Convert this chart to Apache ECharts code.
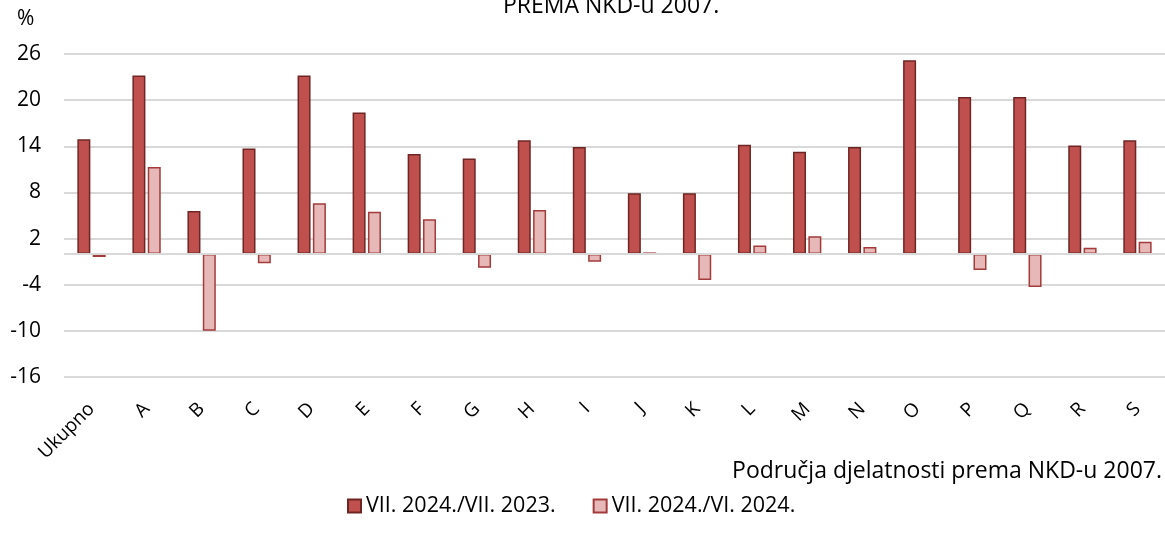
<!DOCTYPE html>
<html>
<head>
<meta charset="utf-8">
<script src="https://cdn.jsdelivr.net/npm/echarts@6/dist/echarts.min.js"></script>
<style>
html,body{margin:0;padding:0;background:#fff;}
#c{width:1165px;height:545px;}
</style>
</head>
<body>
<div id="c"></div>
<script>
const categories = ['Ukupno','A','B','C','D','E','F','G','H','I','J','K','L','M','N','O','P','Q','R','S'];
const seriesNames = ['VII. 2024./VII. 2023.', 'VII. 2024./VI. 2024.'];
const yearOnYear = [14.9, 23.2, 5.6, 13.7, 23.2, 18.4, 13.0, 12.4, 14.8, 13.9, 7.9, 7.9, 14.2, 13.3, 13.9, 25.2, 20.4, 20.4, 14.1, 14.8];
const monthOnMonth = [-0.4, 11.3, -10.0, -1.2, 6.6, 5.5, 4.5, -1.8, 5.7, -1.0, 0.2, -3.4, 1.1, 2.3, 0.9, -0.1, -2.1, -4.3, 0.8, 1.6];
const yTicks = { min: -16, max: 26, interval: 6 };
const titleText = 'PREMA NKD-u 2007.';
const unitText = '%';
const xAxisTitle = 'Područja djelatnosti prema NKD-u 2007.';

const FONT = 'Open Sans';
const chart = echarts.init(document.getElementById('c'), null, {renderer: 'canvas'});
chart.setOption({
  animation: false,
  backgroundColor: '#ffffff',
  textStyle: { fontFamily: FONT, color: '#000' },
  grid: { left: 64, top: 54, width: 1104, height: 323, containLabel: false },
  graphic: [
    { type: 'text', left: 503, top: -5, style: { text: titleText, font: '23px "Open Sans"', fill: '#000' } },
    { type: 'text', left: 17, top: 9, style: { text: unitText, font: '21px "Open Sans"', fill: '#000' } },
    { type: 'text', right: 3, top: 460, style: { text: xAxisTitle, font: '23px "Open Sans"', fill: '#000' } }
  ],
  legend: {
    bottom: 23,
    left: 342,
    itemWidth: 13,
    itemHeight: 13,
    itemGap: 37,
    icon: 'rect',
    textStyle: { fontFamily: FONT, fontSize: 21.5, color: '#000' },
    data: seriesNames
  },
  xAxis: {
    type: 'category',
    data: categories,
    axisLine: { show: false, onZero: false },
    axisTick: { show: false },
    axisLabel: { rotate: 45, margin: 29, fontSize: 19, fontFamily: FONT, color: '#000', interval: 0 }
  },
  yAxis: {
    type: 'value',
    min: yTicks.min, max: yTicks.max, interval: yTicks.interval,
    axisLine: { show: false },
    axisTick: { show: false },
    splitLine: { lineStyle: { color: '#d9d9d9', width: 2 } },
    axisLabel: { margin: 23, fontSize: 21, fontFamily: FONT, color: '#000' }
  },
  series: [
    {
      name: seriesNames[0], type: 'bar', data: yearOnYear,
      barWidth: 13, barGap: '18%',
      itemStyle: { color: '#C0504D', borderColor: '#6E2624', borderWidth: 1.5 },
      markLine: {
        silent: true, symbol: 'none', label: { show: false },
        lineStyle: { color: '#d9d9d9', width: 2, type: 'solid' },
        data: [{ yAxis: 0 }]
      },
      z: 3
    },
    {
      name: seriesNames[1], type: 'bar', data: monthOnMonth,
      barWidth: 13,
      itemStyle: { color: '#E6B9B8', borderColor: '#A33B3B', borderWidth: 1.5 },
      z: 3
    }
  ]
});
</script>
</body>
</html>
